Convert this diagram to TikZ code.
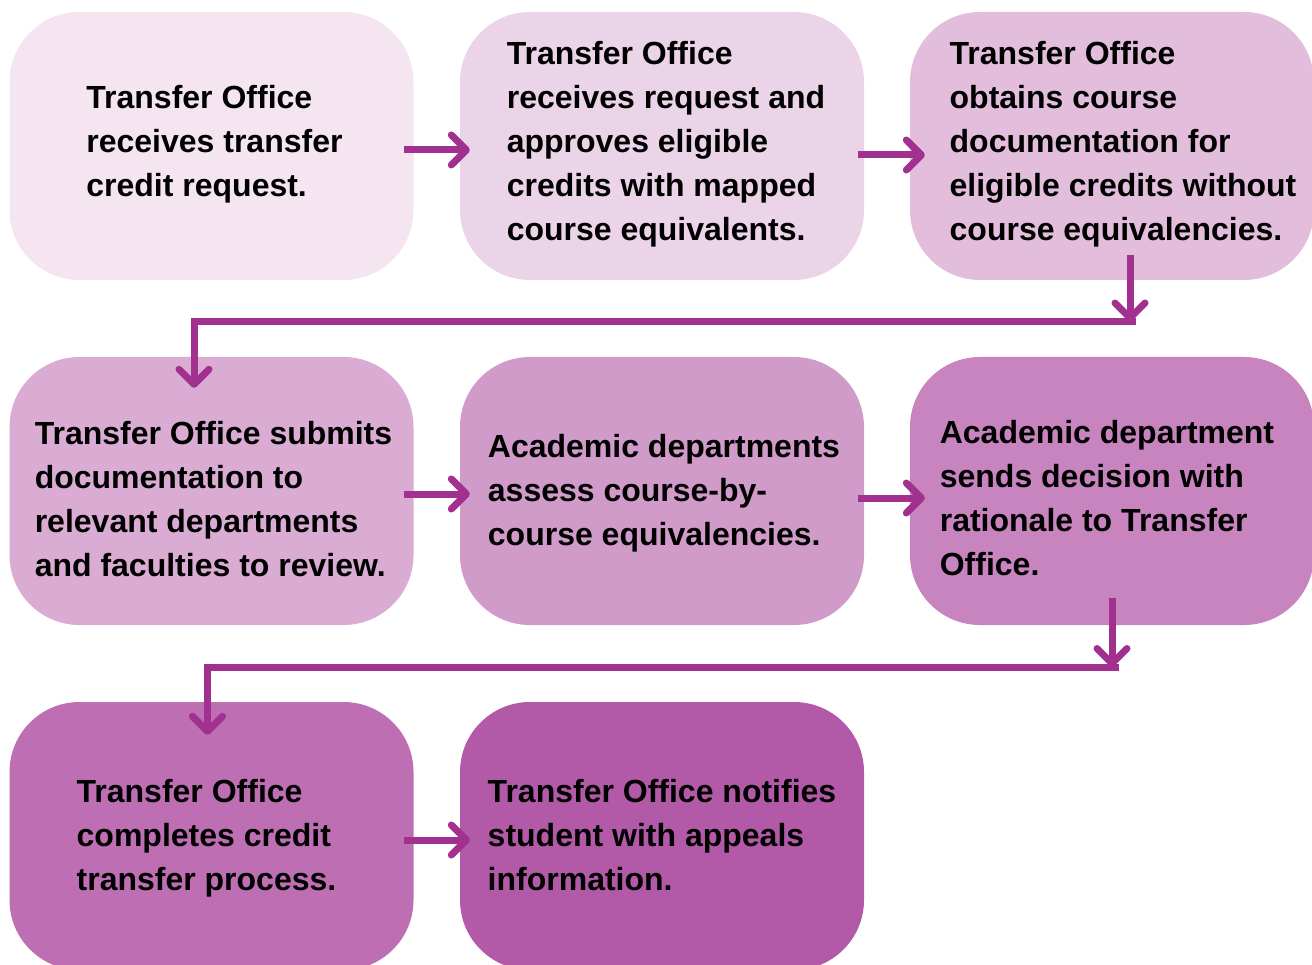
\documentclass[tikz,border=0pt]{standalone}
\usepackage{fontspec}
\setmainfont{Liberation Sans}
\usetikzlibrary{arrows.meta,calc}

\definecolor{stepA}{HTML}{F4E5F0}
\definecolor{stepB}{HTML}{ECD4E8}
\definecolor{stepC}{HTML}{E3BEDC}
\definecolor{stepD}{HTML}{DAACD3}
\definecolor{stepE}{HTML}{D09BC9}
\definecolor{stepF}{HTML}{C784BF}
\definecolor{stepG}{HTML}{BE6EB3}
\definecolor{stepH}{HTML}{B25AA7}
\definecolor{flow}{HTML}{A2308F}

\begin{document}
\begin{tikzpicture}[x=1pt, y=-1pt,
	box/.style = {rectangle, rounded corners = 70pt, minimum width = 404pt, minimum height = 268pt, inner sep = 0pt},
	txt/.style = {inner sep = 0pt, align = left, font = \fontsize{32}{44}\selectfont\bfseries},
	link/.style = {flow, line width = 7pt, -{Straight Barb[length = 15pt, width = 30pt, round]}}]
	\useasboundingbox (0, 0) rectangle (1312, 965);
	\clip (0, 0) rectangle (1312, 965);
	
	\node[box, fill = stepA] (b1) at (211.5, 146) {};
	\node[box, fill = stepB] (b2) at (662, 146) {};
	\node[box, fill = stepC] (b3) at (1112, 146) {};
	\node[box, fill = stepD] (b4) at (211.5, 491) {};
	\node[box, fill = stepE] (b5) at (662, 491) {};
	\node[box, fill = stepF] (b6) at (1112, 491) {};
	\node[box, fill = stepG] (b7) at (211.5, 836) {};
	\node[box, fill = stepH] (b8) at (662, 836) {};
	
	\node[txt] (l1) at ([shift = {(3, -2)}]b1.center) {Transfer Office\\receives transfer\\credit request.};
	\node[txt] (l2) at ([shift = {(4, -2)}]b2.center) {Transfer Office\\receives request and\\approves eligible\\credits with mapped\\course equivalents.};
	\node[txt] (l3) at ([shift = {(11, -2)}]b3.center) {Transfer Office\\obtains course\\documentation for\\eligible credits without\\course equivalencies.};
	\node[txt] (l4) at ([shift = {(2, 8)}]b4.center) {Transfer Office submits\\documentation to\\relevant departments\\and faculties to review.};
	\node[txt] (l5) at ([shift = {(2, 2)}]b5.center) {Academic departments\\assess course-by-\\course equivalencies.};
	\node[txt] (l6) at ([shift = {(-5, 7)}]b6.center) {Academic department\\sends decision with\\rationale to Transfer\\Office.};
	\node[txt] (l7) at ([shift = {(-5, 2)}]b7.center) {Transfer Office\\completes credit\\transfer process.};
	\node[txt] (l8) at ([shift = {(0, -1)}]b8.center) {Transfer Office notifies\\student with appeals\\information.};
	
	\draw[link] ([xshift = -10pt, yshift = -4pt]b1.east) -- ([xshift = 10pt, yshift = -4pt]b2.west);
	\draw[link] ([xshift = -6pt, yshift = -9pt]b2.east) -- ([xshift = 15pt, yshift = -9pt]b3.west);
	\draw[link] ([xshift = -10pt, yshift = -3pt]b4.east) -- ([xshift = 10pt, yshift = -3pt]b5.west);
	\draw[link] ([xshift = -6pt, yshift = -7pt]b5.east) -- ([xshift = 15pt, yshift = -7pt]b6.west);
	\draw[link] ([xshift = -10pt, yshift = -4pt]b7.east) -- ([xshift = 10pt, yshift = -4pt]b8.west);
	
	\coordinate (t1) at (1130, 321.5);
	\coordinate (t2) at (194, 321.5);
	\draw[link] ($(b3.south -| t1) + (0, -25)$) -- (t1);
	\draw[link] ([xshift = 6pt]t1) -- (t2) -- ($(b4.north -| t2) + (0, 31)$);
	
	\coordinate (t3) at (1112, 667);
	\coordinate (t4) at (207.5, 667);
	\draw[link] ($(b6.south -| t3) + (0, -27)$) -- (t3);
	\draw[link] ([xshift = 7pt]t3) -- (t4) -- ($(b7.north -| t4) + (0, 33)$);
\end{tikzpicture}
\end{document}
